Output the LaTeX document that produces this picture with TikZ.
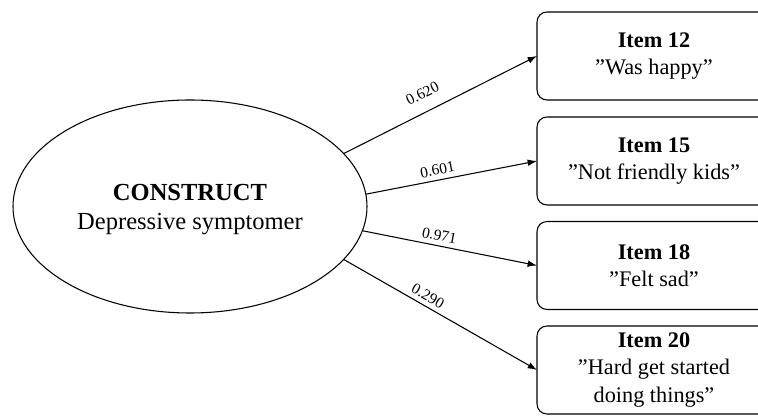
\documentclass[tikz,border=0pt]{standalone}
\usepackage{fontspec}
\setmainfont{Liberation Serif}
\usetikzlibrary{arrows.meta,shapes.geometric}
\begin{document}
\begin{tikzpicture}[x=0.75pt,y=-0.75pt,
  construct/.style={ellipse, draw, line width=0.8pt, minimum width=265.5pt, minimum height=159.75pt, inner sep=0pt, outer sep=0pt},
  constructtext/.style={align=center, inner sep=0pt, font=\fontsize{18.4}{21.75}\selectfont},
  itembox/.style={draw, rounded corners=7.5pt, line width=0.8pt, minimum width=175.5pt, minimum height=66pt, inner sep=0pt, outer sep=0pt, align=center, font=\fontsize{16.7}{20.6}\selectfont},
  loading/.style={-{Latex[length=7pt,width=5pt]}, line width=0.8pt},
  lbl/.style={sloped, above, font=\fontsize{11.6}{13}\selectfont, pos=0.43}]
\useasboundingbox (0,0) rectangle (758,416);
\clip (0,0) rectangle (758,416);
\node[construct] (c) at (190,206.5) {};
\node[constructtext] (ct) at (190,210) {\textbf{CONSTRUCT}\\Depressive symptomer};
\node[itembox] (i12) at (654,56) {\textbf{Item 12}\\”Was happy”};
\node[itembox] (i15) at (654,161) {\textbf{Item 15}\\”Not friendly kids”};
\node[itembox] (i18) at (654,265.5) {\textbf{Item 18}\\”Felt sad”};
\node[itembox] (i20) at (654,370) {\textbf{Item 20}\\”Hard get started\\doing things”};
\draw[loading] (c.19) -- node[lbl, pos=0.45, above=6pt] (l12) {0.620} (i12.west);
\draw[loading] (c.4.4) -- node[lbl] (l15) {0.601} (i15.west);
\draw[loading] (c.-8) -- node[lbl] (l18) {0.971} (i18.west);
\draw[loading] (c.-19.7) -- node[lbl, pos=0.41] (l20) {0.290} (i20.west);
\end{tikzpicture}
\end{document}
